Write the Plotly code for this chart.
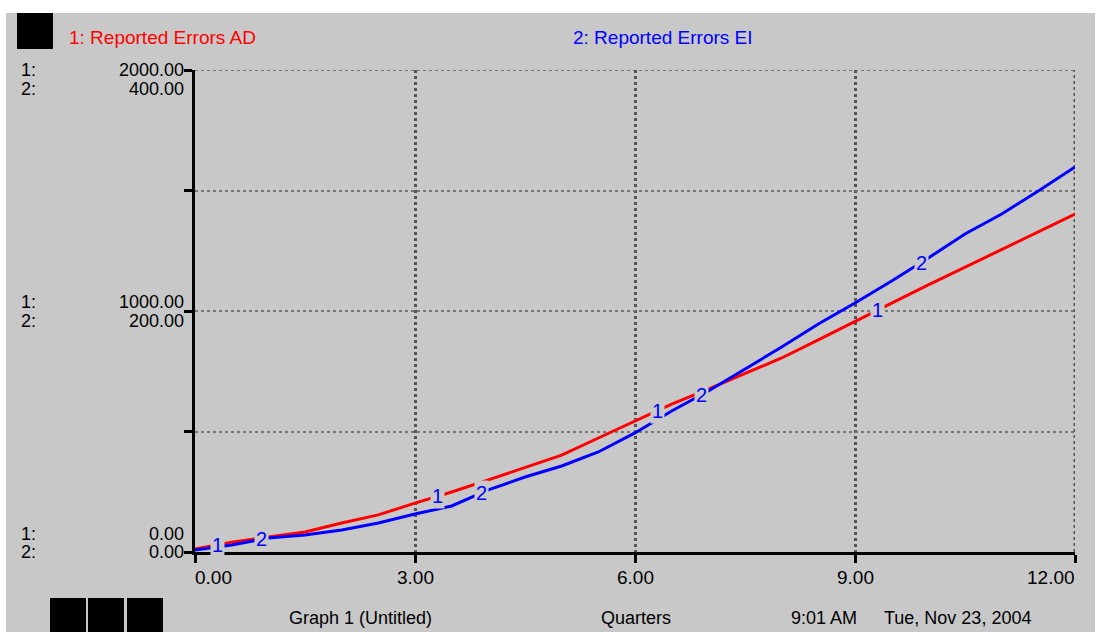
import numpy as np
import plotly.graph_objects as go

quarters = [0, 0.5, 1, 1.5, 2, 2.5, 3, 3.5, 4, 4.5, 5, 5.5, 6, 6.5, 7, 7.5, 8, 8.5, 9, 9.5, 10, 10.5, 11, 11.5, 12]
reported_errors_ad = [12, 41, 62, 83, 120, 154, 203, 249, 299, 349, 402, 473, 544, 614, 676, 739, 805, 880, 958, 1033, 1108, 1182, 1257, 1328, 1402]
reported_errors_ei = [1.7, 5.8, 11.6, 14.1, 18.3, 24.1, 31.5, 38.2, 51.5, 62.2, 71.4, 83, 98.8, 117, 133.6, 151.9, 170.1, 189.2, 206.6, 224.9, 244, 263.9, 280.5, 299.6, 319.5]

x_ticks = [0, 3, 6, 9, 12]
y1_ticks = [0, 1000, 2000]
y2_ticks = [0, 200, 400]
label1_t = [0.3, 3.3, 6.3, 9.3]
label2_t = [0.9, 3.9, 6.9, 9.9]

BG = "#C8C8C8"
FONT = "Liberation Sans, Arial, sans-serif"
FS = 19

W, H = 1095, 632
L, R, T, B = 195, 20, 70, 80
pw, ph = W - L - R, H - T - B


def px(xp):
    return (xp - L) / pw


def py(yp):
    return (H - B - yp) / ph


fig = go.Figure()
fig.add_trace(go.Scatter(x=quarters, y=reported_errors_ad, mode="lines",
                         line=dict(color="#FF0000", width=3), name="1: Reported Errors AD"))
fig.add_trace(go.Scatter(x=quarters, y=reported_errors_ei, mode="lines", yaxis="y2",
                         line=dict(color="#0000FF", width=3), name="2: Reported Errors EI"))

ann = []
# labels on the lines
for t in label1_t:
    ann.append(dict(x=t, y=float(np.interp(t, quarters, reported_errors_ad)), xref="x", yref="y",
                    text="1", showarrow=False, bgcolor=BG, borderpad=1,
                    font=dict(color="#0000FF", size=20, family=FONT)))
for t in label2_t:
    ann.append(dict(x=t, y=float(np.interp(t, quarters, reported_errors_ei)), xref="x", yref="y2",
                    text="2", showarrow=False, bgcolor=BG, borderpad=1,
                    font=dict(color="#0000FF", size=20, family=FONT)))

# x tick labels (ends pulled inward like the original)
for v in x_ticks:
    anchor = "left" if v == x_ticks[0] else ("right" if v == x_ticks[-1] else "center")
    shift = -2 if anchor == "left" else (2 if anchor == "right" else 0)
    ann.append(dict(x=v, y=py(577), xref="x", yref="paper", text=f"{v:.2f}", showarrow=False,
                    xanchor=anchor, yanchor="middle", xshift=shift,
                    font=dict(color="black", size=FS, family=FONT)))

# y tick labels for both scales
offsets = {0: (18, 0), 1000: (9, -10), 2000: (0, -19)}
for v1, v2 in zip(y1_ticks, y2_ticks):
    off_top, off_bot = offsets[v1]
    for txt, off in ((f"{v1:.2f}", off_top), (f"{v2:.2f}", off_bot)):
        ann.append(dict(x=0, y=v1, xref="paper", yref="y", text=txt, showarrow=False,
                        xanchor="right", yanchor="middle", xshift=-9, yshift=off,
                        font=dict(color="black", size=18, family=FONT)))
    for txt, off in (("1:", off_top), ("2:", off_bot)):
        ann.append(dict(x=px(19), y=v1, xref="paper", yref="y", text=txt, showarrow=False,
                        xanchor="left", yanchor="middle", yshift=off,
                        font=dict(color="black", size=18, family=FONT)))

# header legend texts
ann.append(dict(x=px(67), y=py(37), xref="paper", yref="paper", text="1: Reported Errors AD",
                showarrow=False, xanchor="left", yanchor="middle",
                font=dict(color="#FF0000", size=FS, family=FONT)))
ann.append(dict(x=px(571), y=py(37), xref="paper", yref="paper", text="2: Reported Errors EI",
                showarrow=False, xanchor="left", yanchor="middle",
                font=dict(color="#0000FF", size=FS, family=FONT)))

# footer texts
for txt, xp in (("Graph 1 (Untitled)", 287), ("Quarters", 599), ("9:01 AM", 789), ("Tue, Nov 23, 2004", 882)):
    ann.append(dict(x=px(xp), y=py(618), xref="paper", yref="paper", text=txt, showarrow=False,
                    xanchor="left", yanchor="middle", font=dict(color="black", size=18, family=FONT)))

shapes = [
    dict(type="rect", xref="paper", yref="paper", x0=px(6), x1=px(W + 5), y0=py(13), y1=py(H + 5),
         fillcolor=BG, line=dict(width=0), layer="below"),
    dict(type="rect", xref="paper", yref="paper", x0=px(17), x1=px(53), y0=py(13), y1=py(49),
         fillcolor="black", line=dict(width=0)),
    # grid lines at the far edges of the plot (right and top)
    dict(type="line", xref="x", yref="paper", x0=12, x1=12, y0=0, y1=1,
         line=dict(color="#555555", width=3, dash="dot"), layer="below"),
    dict(type="line", xref="paper", yref="y", x0=0, x1=1, y0=2000, y1=2000,
         line=dict(color="#777777", width=2, dash="dot"), layer="below"),
]
for x0 in (50, 88, 127):
    shapes.append(dict(type="rect", xref="paper", yref="paper", x0=px(x0), x1=px(x0 + 36),
                       y0=py(598), y1=py(H + 5), fillcolor="black", line=dict(width=0)))

fig.update_layout(
    width=W, height=H, margin=dict(l=L, r=R, t=T, b=B),
    paper_bgcolor="white", plot_bgcolor=BG, showlegend=False,
    font=dict(family=FONT, size=FS, color="black"),
    xaxis=dict(range=[0, 12], tickvals=x_ticks, showticklabels=False,
               ticks="outside", ticklen=8, tickwidth=3, tickcolor="black",
               showline=True, linewidth=3, linecolor="black",
               showgrid=True, gridcolor="#555555", gridwidth=3, griddash="dot", zeroline=False),
    yaxis=dict(range=[0, 2000], tickvals=[0, 500, 1000, 1500, 2000], showticklabels=False,
               ticks="outside", ticklen=8, tickwidth=3, tickcolor="black",
               showline=True, linewidth=3, linecolor="black",
               showgrid=True, gridcolor="#777777", gridwidth=2, griddash="dot", zeroline=False),
    yaxis2=dict(range=[0, 400], overlaying="y", side="right", visible=False),
    annotations=ann, shapes=shapes,
)
fig.write_html("out.html", config={"displayModeBar": False},
               post_script="document.body.style.margin='0';document.body.style.overflow='hidden';")
